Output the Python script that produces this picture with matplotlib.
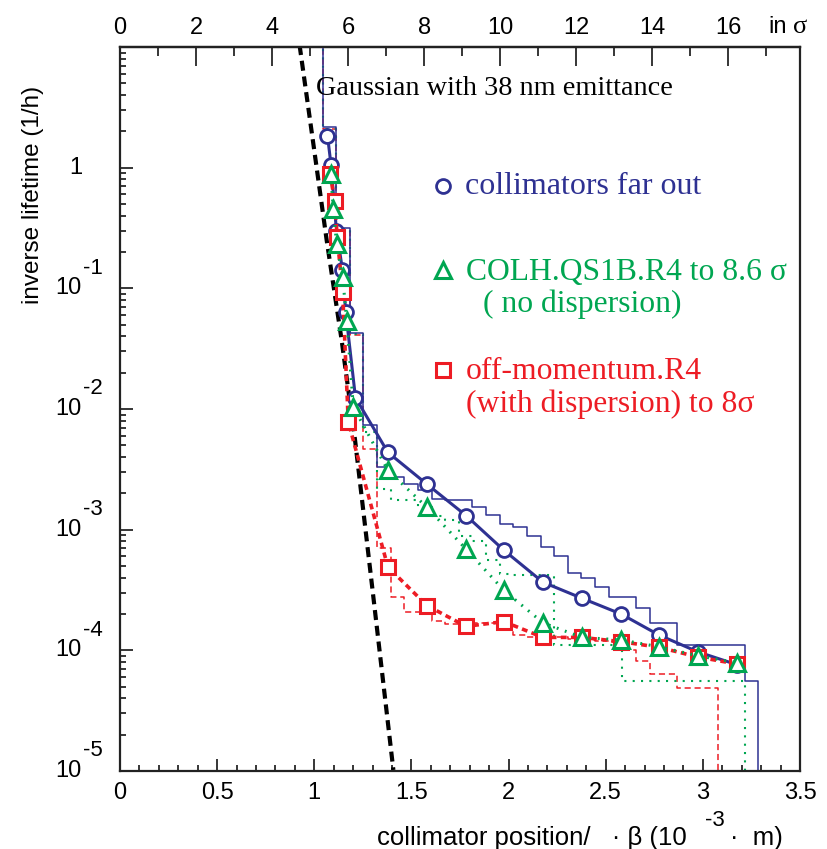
import numpy as np
import matplotlib
matplotlib.use("Agg")
import matplotlib.pyplot as plt
from matplotlib.ticker import MultipleLocator, FixedLocator, NullFormatter

plt.rcParams['font.family'] = ['Liberation Sans', 'DejaVu Sans']
plt.rcParams['mathtext.fontset'] = 'custom'
plt.rcParams['mathtext.rm'] = 'Liberation Sans'

SERIF = ['Liberation Serif', 'DejaVu Serif']
BLUE = '#2e3192'
GREEN = '#00a651'
RED = '#ed1c24'

# collimator scan points (x in 1e-3 m, inverse lifetime in 1/h)
blue_x = [1.068, 1.086, 1.114, 1.145, 1.162, 1.212, 1.379, 1.580, 1.781, 1.976,
          2.177, 2.378, 2.579, 2.774, 2.975, 3.176]
blue_y = [1.84, 1.06, 0.30, 0.143, 0.0634, 0.0124, 4.37e-3, 2.38e-3, 1.31e-3, 6.75e-4,
          3.67e-4, 2.70e-4, 2.0e-4, 1.34e-4, 9.7e-5, 7.6e-5]

green_x = [1.084, 1.098, 1.115, 1.146, 1.167, 1.201, 1.379, 1.580, 1.781, 1.976,
           2.177, 2.378, 2.579, 2.774, 2.975, 3.176]
green_y = [0.887, 0.455, 0.233, 0.124, 0.0541, 0.0104, 3.1e-3, 1.53e-3, 6.9e-4, 3.14e-4,
           1.69e-4, 1.28e-4, 1.22e-4, 1.07e-4, 9.0e-5, 7.9e-5]

red_x = [1.081, 1.105, 1.118, 1.146, 1.175, 1.379, 1.580, 1.781, 1.976,
         2.177, 2.378, 2.579, 2.774, 2.975, 3.176]
red_y = [0.887, 0.533, 0.265, 0.0929, 7.8e-3, 4.9e-4, 2.35e-4, 1.58e-4, 1.73e-4,
         1.28e-4, 1.28e-4, 1.18e-4, 1.06e-4, 8.8e-5, 7.7e-5]

# histograms of loss rate, bins of 0.0701 starting at 1.043
bin_start = 1.043
bin_width = 0.0701
blue_step = [2.19, 0.319, 0.043, 7.3e-3, 3.3e-3, 2.73e-3, 2.41e-3, 2.12e-3, 1.81e-3, 1.77e-3,
             1.75e-3, 1.54e-3, 1.32e-3, 1.12e-3, 1.05e-3, 8.9e-4, 7.2e-4, 6.06e-4, 4.4e-4, 3.96e-4,
             3.34e-4, 2.77e-4, 2.77e-4, 2.23e-4, 1.69e-4, 1.69e-4, 1.10e-4, 1.10e-4, 1.10e-4, 1.10e-4,
             1.10e-4, 5.6e-5]
green_step = [2.1, 0.31, 0.042, 6.5e-3, 2.19e-3, 1.75e-3, 1.75e-3, 1.55e-3, 1.3e-3, 1.2e-3,
              8.8e-4, 8.0e-4, 5.6e-4, 4.3e-4, 4.2e-4, 4.2e-4, 4.2e-4, 1.1e-4, 1.1e-4, 1.1e-4,
              1.1e-4, 1.1e-4, 5.6e-5, 5.6e-5, 5.6e-5, 5.6e-5, 5.6e-5, 5.6e-5, 5.6e-5, 5.6e-5,
              5.6e-5]
red_step = [2.1, 0.30, 0.041, 4.7e-3, 7.0e-4, 2.77e-4, 2.08e-4, 2.08e-4, 1.75e-4, 1.65e-4,
            1.65e-4, 1.7e-4, 1.7e-4, 1.5e-4, 1.35e-4, 1.3e-4, 1.3e-4, 1.28e-4, 1.25e-4, 1.22e-4,
            1.2e-4, 1.18e-4, 1.0e-4, 8.1e-5, 6.35e-5, 6.35e-5, 4.84e-5, 4.84e-5, 4.84e-5]

# gaussian tail, points
gauss_x = [0.915, 0.926, 0.993, 1.064, 1.141, 1.210, 1.304, 1.407]
gauss_y = [14.0, 9.9, 1.67, 0.249, 0.037, 5.5e-3, 2.77e-4, 1.02e-5]

sigma_mm = 0.1957   # 1 sigma in 1e-3 m

fig = plt.figure(figsize=(8.27, 8.49), dpi=100)
ax = fig.add_axes([120/827, 1 - 771/849, 680/827, 724/849])
ax.set_yscale('log')
ax.set_xlim(0, 3.5)
ax.set_ylim(1e-5, 10)


def step_line(vals, **kw):
    n = len(vals)
    edges = bin_start + bin_width * np.arange(n + 1)
    xs = [edges[0]] + list(edges[:-1]) + [edges[-1]]
    ys = [1e3] + list(vals) + [1e-8]
    ax.plot(xs, ys, drawstyle='steps-post', **kw)


step_line(red_step, color=RED, lw=1.1, ls=(0, (4, 2.5)))
step_line(green_step, color=GREEN, lw=1.5, ls=(0, (1, 3)))
step_line(blue_step, color=BLUE, lw=1.1)

ax.plot(gauss_x, gauss_y, color='black', lw=3, ls=(0, (2.4, 1.4)))

ax.plot(blue_x, blue_y, color=BLUE, lw=2.2, marker='o', ms=10, mfc='white',
        mec=BLUE, mew=2)
ax.plot(red_x, red_y, color=RED, lw=2.6, ls=(0, (1.6, 1.2)), marker='s', ms=10,
        mfc='white', mec=RED, mew=2.2)
ax.plot(green_x, green_y, color=GREEN, lw=2.2, ls=(0, (0.6, 2.2)), marker='^', ms=11,
        mfc='white', mec=GREEN, mew=2.2)

# axes styling
for s in ax.spines.values():
    s.set_linewidth(1.6)
    s.set_color('#222222')
ax.xaxis.set_major_locator(MultipleLocator(0.5))
ax.xaxis.set_minor_locator(MultipleLocator(0.1))
ax.xaxis.set_major_formatter(plt.FuncFormatter(lambda v, p: '%g' % v))
ax.tick_params(axis='x', which='major', direction='in', length=8.6, width=1.1,
               labelsize=17, pad=8, top=False)
ax.tick_params(axis='x', which='minor', direction='in', length=4.3, width=1.1, top=False)
ax.yaxis.set_major_locator(FixedLocator([1e-5, 1e-4, 1e-3, 1e-2, 1e-1, 1]))
ax.yaxis.set_minor_locator(matplotlib.ticker.LogLocator(base=10, subs=np.arange(2, 10)))
ax.yaxis.set_major_formatter(NullFormatter())
ax.yaxis.set_minor_formatter(NullFormatter())
ax.tick_params(axis='y', which='major', direction='in', length=9, width=1.1, right=False)
ax.tick_params(axis='y', which='minor', direction='in', length=4.3, width=1.1, right=False)

# y tick labels "10" with large exponent
ytr = ax.get_yaxis_transform()
for e in [-5, -4, -3, -2, -1]:
    ax.text(-0.056, 10.0 ** e, '10', transform=ytr, ha='right', va='center', fontsize=17)
    ax.text(-0.0545, 10.0 ** e * 1.47, '-%d' % -e, transform=ytr, ha='left', va='center',
            fontsize=16)
ax.text(-0.056, 1.0, '1', transform=ytr, ha='right', va='center', fontsize=17)

# top axis in sigma
sec = ax.secondary_xaxis('top', functions=(lambda x: x / sigma_mm, lambda s: s * sigma_mm))
sec.xaxis.set_major_locator(MultipleLocator(2))
sec.xaxis.set_minor_locator(MultipleLocator(1))
sec.tick_params(which='major', direction='in', length=13.5, width=1.1, labelsize=17, pad=6)
sec.tick_params(which='minor', direction='in', length=6.5, width=1.1)
sec.spines['top'].set_linewidth(1.6)
fig.text(768/827, 1 - 27/849, 'in', fontsize=17, ha='left', va='center')
fig.text(793/827, 1 - 27/849, 'σ', fontsize=19, ha='left', va='center', family=SERIF)

# axis titles
fig.text(33/827, 1 - 195/849, 'inverse lifetime (1/h)', rotation=90, fontsize=17.5,
         ha='center', va='center')
fig.text(377/827, 1 - 838/849, 'collimator position/   · β (10', fontsize=18.5,
         ha='left', va='center')
fig.text(705/827, 1 - 820/849, '-3', fontsize=16, ha='left', va='center')
fig.text(730/827, 1 - 838/849, '·  m)', fontsize=18.5, ha='left', va='center')

# annotations / legend
ax.text(0.288, 0.943, 'Gaussian with 38 nm emittance', transform=ax.transAxes,
        family=SERIF, fontsize=20.3, va='center', ha='left')
ax.plot([0.475], [0.808], transform=ax.transAxes, marker='o', ms=10, mfc='white',
        mec=BLUE, mew=2, clip_on=False)
ax.text(0.507, 0.808, 'collimators far out', transform=ax.transAxes, family=SERIF,
        fontsize=23, color=BLUE, va='center', ha='left')
ax.plot([0.475], [0.692], transform=ax.transAxes, marker='^', ms=11, mfc='white',
        mec=GREEN, mew=2.2, clip_on=False)
ax.text(0.509, 0.689, 'COLH.QS1B.R4 to 8.6 σ', transform=ax.transAxes, family=SERIF,
        fontsize=22.8, color=GREEN, va='center', ha='left')
ax.text(0.534, 0.644, '( no dispersion)', transform=ax.transAxes, family=SERIF,
        fontsize=22.8, color=GREEN, va='center', ha='left')
ax.plot([0.475], [0.554], transform=ax.transAxes, marker='s', ms=10, mfc='white',
        mec=RED, mew=2.2, clip_on=False)
ax.text(0.509, 0.552, 'off-momentum.R4', transform=ax.transAxes, family=SERIF,
        fontsize=22.8, color=RED, va='center', ha='left')
ax.text(0.509, 0.507, '(with dispersion) to 8σ', transform=ax.transAxes, family=SERIF,
        fontsize=22.8, color=RED, va='center', ha='left')

fig.savefig('out.png', dpi=100)
